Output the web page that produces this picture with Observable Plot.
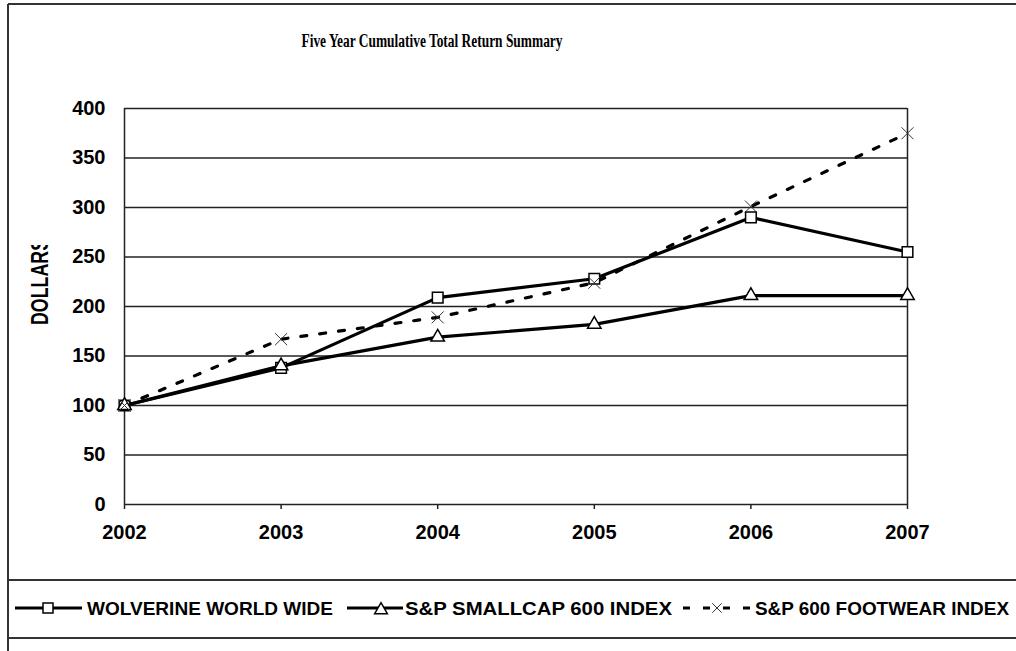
<!DOCTYPE html>
<html>
<head>
<meta charset="utf-8">
<script src="https://cdn.jsdelivr.net/npm/d3@7"></script>
<script src="https://cdn.jsdelivr.net/npm/@observablehq/plot@0.6"></script>
<style>
  html, body { margin: 0; padding: 0; background: #fff; }
  #wrap { position: relative; width: 1016px; height: 651px; overflow: hidden; }
  #chart { position: absolute; left: 0; top: 0; }
  #deco { position: absolute; left: 0; top: 0; pointer-events: none; }
</style>
</head>
<body>
<div id="wrap">
  <div id="chart"></div>
  <svg id="deco" width="1016" height="651"></svg>
</div>
<script>
// ---- data ----
const years = [2002, 2003, 2004, 2005, 2006, 2007];
const wolverine = [100, 138, 209, 228, 290, 255];
const smallcap = [100, 140, 169, 182, 211, 211];
const footwear = [100, 167, 189, 224, 301, 375];
const yTicks = [0, 50, 100, 150, 200, 250, 300, 350, 400];
const seriesNames = ["WOLVERINE WORLD WIDE", "S&P SMALLCAP 600 INDEX", "S&P 600 FOOTWEAR INDEX"];
const titleText = "Five Year Cumulative Total Return Summary";
const yLabel = "DOLLARS";

const rows = (vals) => years.map((y, i) => ({year: y, value: vals[i]}));
const wRows = rows(wolverine), sRows = rows(smallcap), fRows = rows(footwear);

const chart = Plot.plot({
  width: 1016,
  height: 651,
  marginLeft: 124,
  marginRight: 109,
  marginTop: 108,
  marginBottom: 147,
  style: {fontFamily: "'Liberation Sans', Arial, sans-serif", fontSize: "20px", fontWeight: "bold", color: "#000", background: "transparent"},
  x: {type: "linear", domain: [2002, 2007]},
  y: {domain: [0, 400]},
  marks: [
    Plot.ruleY(yTicks, {stroke: "#222", strokeWidth: 1.5, strokeOpacity: 1}),
    Plot.ruleX([2002, 2007], {y1: 0, y2: 400, stroke: "#222", strokeWidth: 1.5, strokeOpacity: 1}),
    Plot.axisY({ticks: yTicks, tickSize: 0, tickPadding: 19, label: null, fill: "#000"}),
    Plot.axisX({ticks: years, tickFormat: "d", tickSize: 5, tickPadding: 15, label: null, stroke: "#222", strokeWidth: 1.5, fill: "#000"}),
    Plot.line(fRows, {x: "year", y: "value", stroke: "#000", strokeWidth: 3.2, strokeDasharray: "6,13"}),
    Plot.line(sRows, {x: "year", y: "value", stroke: "#000", strokeWidth: 3.2}),
    Plot.line(wRows, {x: "year", y: "value", stroke: "#000", strokeWidth: 3.2}),
    Plot.dot(wRows, {x: "year", y: "value", symbol: "square", r: 6, fill: "#fff", stroke: "#000", strokeWidth: 1.5}),
    Plot.dot(sRows, {x: "year", y: "value", symbol: "triangle", r: 5, fill: "#fff", stroke: "#000", strokeWidth: 1.5}),
    Plot.dot(fRows, {x: "year", y: "value", symbol: "times", r: 5.5, stroke: "#333", strokeWidth: 1})
  ]
});
document.getElementById("chart").appendChild(chart);

// ---- decorations: frame, title, y label, legend ----
const deco = d3.select("#deco");
const frame = deco.append("g").attr("stroke", "#333").attr("stroke-width", 2);
frame.append("line").attr("x1", 8).attr("x2", 8).attr("y1", 4).attr("y2", 651);
frame.append("line").attr("x1", 8).attr("x2", 1016).attr("y1", 4).attr("y2", 4);
frame.append("line").attr("x1", 8).attr("x2", 1016).attr("y1", 580).attr("y2", 580);
frame.append("line").attr("x1", 8).attr("x2", 1016).attr("y1", 638).attr("y2", 638);

deco.append("text")
  .attr("x", 432).attr("y", 47)
  .attr("text-anchor", "middle")
  .attr("font-family", "'Liberation Serif', 'Times New Roman', serif")
  .attr("font-weight", "bold").attr("font-size", 18)
  .attr("textLength", 261).attr("lengthAdjust", "spacingAndGlyphs")
  .text(titleText);

deco.append("clipPath").attr("id", "ylclip")
  .append("rect").attr("x", 0).attr("y", 245).attr("width", 80).attr("height", 100);
deco.append("g").attr("clip-path", "url(#ylclip)")
  .append("text")
  .attr("transform", "translate(48,325) rotate(-90)")
  .attr("font-family", "'Liberation Sans', Arial, sans-serif")
  .attr("font-weight", "bold").attr("font-size", 24)
  .attr("textLength", 86).attr("lengthAdjust", "spacingAndGlyphs")
  .text(yLabel);

const lg = deco.append("g");
const ly = 608;
// item 1
lg.append("line").attr("x1", 15).attr("x2", 82).attr("y1", ly).attr("y2", ly).attr("stroke", "#000").attr("stroke-width", 3);
lg.append("rect").attr("x", 43).attr("y", ly - 5).attr("width", 10).attr("height", 10).attr("fill", "#fff").attr("stroke", "#000").attr("stroke-width", 1.5);
// item 2
lg.append("line").attr("x1", 347).attr("x2", 403).attr("y1", ly).attr("y2", ly).attr("stroke", "#000").attr("stroke-width", 3);
lg.append("path").attr("d", d3.symbol(d3.symbolTriangle, 70)()).attr("transform", `translate(381,${ly + 2})`).attr("fill", "#fff").attr("stroke", "#000").attr("stroke-width", 1.5);
// item 3
lg.append("line").attr("x1", 683).attr("x2", 750).attr("y1", ly).attr("y2", ly).attr("stroke", "#000").attr("stroke-width", 3).attr("stroke-dasharray", "7,13");
lg.append("path").attr("d", d3.symbol(d3.symbolTimes, 60)()).attr("transform", `translate(717,${ly})`).attr("fill", "none").attr("stroke", "#333").attr("stroke-width", 1);

const textPos = [[87, 246], [405, 267], [755, 254]];
seriesNames.forEach((name, i) => {
  lg.append("text")
    .attr("x", textPos[i][0]).attr("y", ly + 7)
    .attr("font-family", "'Liberation Sans', Arial, sans-serif")
    .attr("font-weight", "bold").attr("font-size", 18)
    .attr("textLength", textPos[i][1]).attr("lengthAdjust", "spacingAndGlyphs")
    .text(name);
});
</script>
</body>
</html>
